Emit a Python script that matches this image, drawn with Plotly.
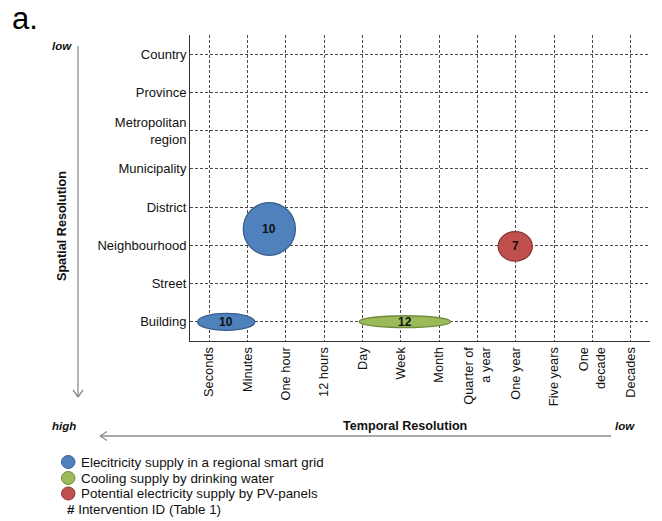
import plotly.graph_objects as go

# Category axes
spatial_levels = ["Building", "Street", "Neighbourhood", "District", "Municipality",
                  "Metropolitan<br>region", "Province", "Country"]
temporal_levels = ["Seconds", "Minutes", "One hour", "12 hours", "Day", "Week", "Month",
                   "Quarter of<br>a year", "One year", "Five years", "One<br>decade", "Decades"]

# Interventions: extent in temporal / spatial category units
intervention_ids = [10, 10, 12, 7]
intervention_kind = ["electricity", "electricity", "cooling", "pv"]
temporal_from = [-0.30, 0.89, 3.91, 7.54]
temporal_to = [1.19, 2.25, 6.30, 8.43]
spatial_from = [-0.22, 1.74, -0.15, 1.59]
spatial_to = [0.22, 3.12, 0.16, 2.36]

legend_kinds = ["electricity", "cooling", "pv"]
legend_labels = ["Elecitricity supply in a regional smart grid",
                 "Cooling supply by drinking water",
                 "Potential electricity supply by PV-panels"]

fill = {"electricity": "#4F81BD", "cooling": "#9BBB59", "pv": "#C0504D"}
edge = {"electricity": "#385D8A", "cooling": "#71893F", "pv": "#8C3836"}

FONT = "Liberation Sans, Arial, sans-serif"
W, H = 662, 521
ML, MR, MT, MB = 190, 12, 35, 180
PW, PH = W - ML - MR, H - MT - MB

fig = go.Figure()
# invisible trace to anchor the axes
fig.add_trace(go.Scatter(x=[0, len(temporal_levels) - 1], y=[0, len(spatial_levels) - 1],
                         mode="markers", marker=dict(opacity=0), hoverinfo="skip",
                         showlegend=False))

shapes = []
annotations = []
for i, k, x0, x1, y0, y1 in zip(intervention_ids, intervention_kind, temporal_from,
                                temporal_to, spatial_from, spatial_to):
    shapes.append(dict(type="circle", xref="x", yref="y", x0=x0, x1=x1, y0=y0, y1=y1,
                       fillcolor=fill[k], line=dict(color=edge[k], width=1.3), layer="above"))
    annotations.append(dict(x=(x0 + x1) / 2, y=(y0 + y1) / 2, xref="x", yref="y",
                            text=f"<b>{i}</b>", showarrow=False,
                            font=dict(size=12, color="#111111", family=FONT)))

# page pixel -> paper fraction (paper spans the plotting area)
def px(x):
    return (x - ML) / PW

def py(y):
    return 1 - (y - MT) / PH

def seg(x0, y0, x1, y1, color="#8c8c8c", width=1.3):
    shapes.append(dict(type="line", xref="paper", yref="paper",
                       x0=px(x0), y0=py(y0), x1=px(x1), y1=py(y1),
                       line=dict(color=color, width=width)))

# Resolution arrows
seg(78, 46, 78, 397)
seg(73, 390, 78, 397)
seg(83, 390, 78, 397)
seg(611, 436, 100, 436)
seg(107, 431.5, 100, 436)
seg(107, 440.5, 100, 436)

def label(x, y, text, size=12, xanchor="center", angle=0, color="#111111"):
    annotations.append(dict(x=px(x), y=py(y), xref="paper", yref="paper", text=text,
                            showarrow=False, xanchor=xanchor, yanchor="middle", textangle=angle,
                            font=dict(size=size, family=FONT, color=color)))

label(25, 19, "a.", size=31, color="#000000")
label(62, 46, "<b><i>low</i></b>", size=11.5)
label(64, 426, "<b><i>high</i></b>", size=11.5)
label(625, 426, "<b><i>low</i></b>", size=11.5)
label(62, 226, "<b>Spatial Resolution</b>", size=12.6, angle=-90)
label(405, 426, "<b>Temporal Resolution</b>", size=12.6)

# Legend
legend_y = [462, 478, 493.5]
for k, t, yy in zip(legend_kinds, legend_labels, legend_y):
    shapes.append(dict(type="circle", xref="paper", yref="paper",
                       x0=px(61.5), x1=px(75), y0=py(yy + 6.5), y1=py(yy - 6.5),
                       fillcolor=fill[k], line=dict(color=edge[k], width=1)))
    label(78.5, yy, t, size=13.4, xanchor="left")
label(65, 509.5, "<b>#</b> Intervention ID (Table 1)", size=13.4, xanchor="left")

fig.update_layout(
    width=W, height=H,
    margin=dict(l=ML, r=MR, t=MT, b=MB),
    paper_bgcolor="white", plot_bgcolor="white",
    showlegend=False,
    font=dict(family=FONT, size=13, color="#111111"),
    shapes=shapes,
    annotations=annotations,
    xaxis=dict(range=[-0.5, len(temporal_levels) - 0.5], tickmode="array",
               tickvals=list(range(len(temporal_levels))), ticktext=temporal_levels,
               tickangle=-90, showgrid=True, gridcolor="#4a4a4a", gridwidth=1,
               griddash="3px,2px", showline=True, linecolor="#333333", linewidth=1,
               zeroline=False, ticks="", fixedrange=True,
               tickfont=dict(size=12.8, family=FONT, color="#111111")),
    yaxis=dict(range=[-0.5, len(spatial_levels) - 0.5], tickmode="array",
               tickvals=list(range(len(spatial_levels))), ticktext=spatial_levels,
               showgrid=True, gridcolor="#4a4a4a", gridwidth=1, griddash="3px,2px",
               showline=True, linecolor="#333333", linewidth=1, zeroline=False,
               ticks="", fixedrange=True,
               tickfont=dict(size=13, family=FONT, color="#111111")),
)

fig.write_html("out.html")
